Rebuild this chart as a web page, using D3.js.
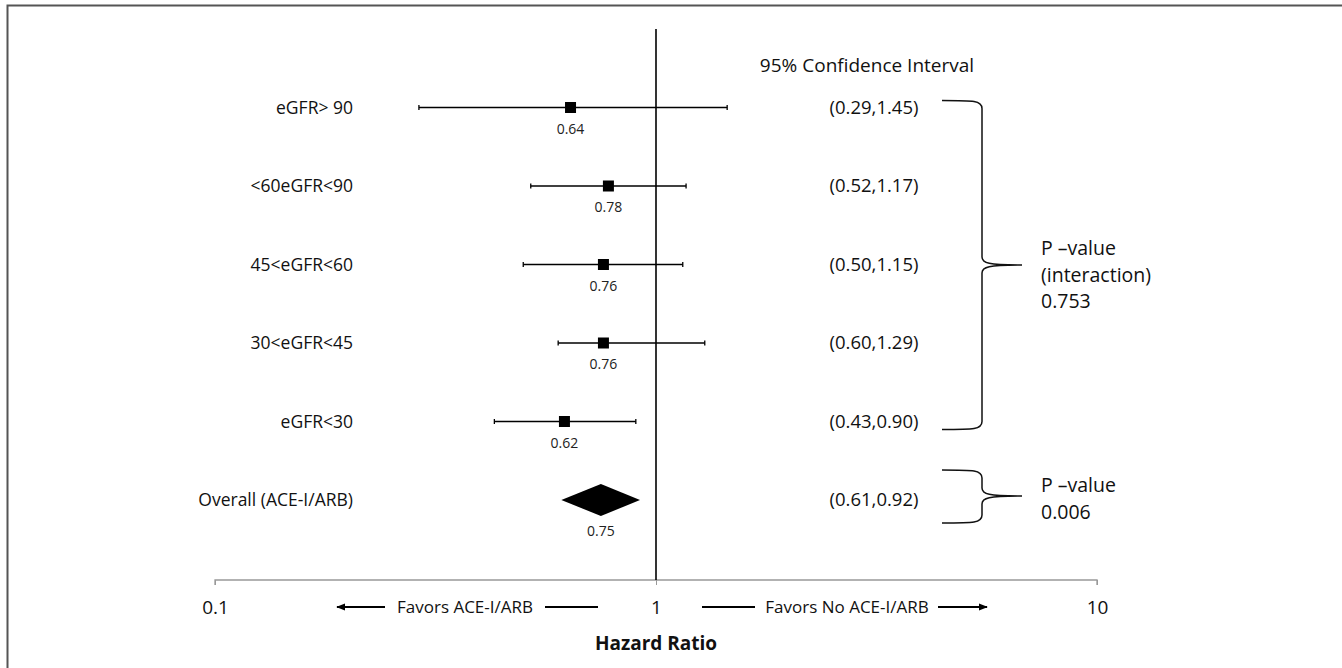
<!DOCTYPE html>
<html>
<head>
<meta charset="utf-8">
<script src="https://cdnjs.cloudflare.com/ajax/libs/d3/7.8.5/d3.min.js"></script>
<style>
  body { margin: 0; background: #fff; }
  svg { display: block; font-family: "Open Sans", "Liberation Sans", sans-serif; }
</style>
</head>
<body>
<script>
// subgroup labels (top to bottom) and hazard ratios with 95% CI
var groups = ["eGFR> 90", "<60eGFR<90", "45<eGFR<60", "30<eGFR<45", "eGFR<30", "Overall (ACE-I/ARB)"];
var hr     = [0.64, 0.78, 0.76, 0.76, 0.62, 0.75];
var lower  = [0.29, 0.52, 0.50, 0.60, 0.43, 0.61];
var upper  = [1.45, 1.17, 1.15, 1.29, 0.90, 0.92];
var ciText = ["(0.29,1.45)", "(0.52,1.17)", "(0.50,1.15)", "(0.60,1.29)", "(0.43,0.90)", "(0.61,0.92)"];
var ticks  = [0.1, 1, 10];
var pInteraction = ["P \u2013value", "(interaction)", "0.753"];
var pOverall     = ["P \u2013value", "0.006"];

var W = 1342, H = 668;

var svg = d3.select("body").append("svg")
    .attr("width", W)
    .attr("height", H);

// frame (only top and left edges visible)
svg.append("path")
    .attr("d", "M7.5,668 L7.5,5.5 L1342,5.5")
    .attr("fill", "none")
    .attr("stroke", "#555")
    .attr("stroke-width", 2);

var x = d3.scaleLog().domain([0.1, 10]).range([215, 1097]);
var y = d3.scalePoint().domain(groups).range([107.5, 500]);

var rows = groups.map(function(g, i) {
    return {name: g, hr: hr[i], lo: lower[i], hi: upper[i], ci: ciText[i], overall: i == groups.length - 1};
});

// axis
var axisG = svg.append("g")
    .attr("transform", "translate(0,580)")
    .call(d3.axisBottom(x).tickValues(ticks).tickSize(5).tickPadding(16)
        .tickFormat(function(d){ return d3.format("~g")(d); }));
axisG.select(".domain").attr("stroke", "#999").attr("stroke-width", 1.3)
    .attr("d", "M" + x(0.1) + ",5V0H" + x(10) + "V5");
axisG.selectAll(".tick line").attr("stroke", "#999");
axisG.selectAll(".tick text")
    .attr("font-size", 19)
    .attr("font-family", "'Open Sans', sans-serif")
    .attr("fill", "#111");

// line of no effect
svg.append("line")
    .attr("x1", x(1)).attr("x2", x(1))
    .attr("y1", 29).attr("y2", 580)
    .attr("stroke", "#000")
    .attr("stroke-width", 1.6);

// confidence interval whiskers
var sub = rows.filter(function(d){ return !d.overall; });

svg.selectAll(".ci").data(sub).enter()
    .append("line")
    .attr("x1", function(d){ return x(d.lo); })
    .attr("x2", function(d){ return x(d.hi); })
    .attr("y1", function(d){ return y(d.name); })
    .attr("y2", function(d){ return y(d.name); })
    .attr("stroke", "#000")
    .attr("stroke-width", 1.3);

// end caps
sub.forEach(function(d) {
    [d.lo, d.hi].forEach(function(v) {
        svg.append("line")
            .attr("x1", x(v)).attr("x2", x(v))
            .attr("y1", y(d.name) - 2.5).attr("y2", y(d.name) + 2.5)
            .attr("stroke", "#000")
            .attr("stroke-width", 1.3);
    });
});

// point estimates
svg.selectAll(".pt").data(sub).enter()
    .append("rect")
    .attr("x", function(d){ return x(d.hr) - 5.5; })
    .attr("y", function(d){ return y(d.name) - 5.5; })
    .attr("width", 11)
    .attr("height", 11)
    .attr("fill", "#000");

// overall diamond
var ov = rows[rows.length - 1];
svg.append("path")
    .attr("d", "M" + x(ov.lo) + "," + y(ov.name) +
               "L" + x(ov.hr) + "," + (y(ov.name) - 16) +
               "L" + x(ov.hi) + "," + y(ov.name) +
               "L" + x(ov.hr) + "," + (y(ov.name) + 16) + "Z")
    .attr("fill", "#000");

// value labels under markers
svg.selectAll(".val").data(rows).enter()
    .append("text")
    .attr("x", function(d){ return x(d.hr); })
    .attr("y", function(d){ return y(d.name) + (d.overall ? 36 : 26); })
    .attr("text-anchor", "middle")
    .attr("font-size", 14)
    .attr("fill", "#222")
    .text(function(d){ return d3.format(".2f")(d.hr); });

// row labels
svg.selectAll(".lab").data(rows).enter()
    .append("text")
    .attr("x", 353)
    .attr("y", function(d){ return y(d.name); })
    .attr("dy", "0.35em")
    .attr("text-anchor", "end")
    .attr("font-size", 17.5)
    .attr("fill", "#111")
    .text(function(d){ return d.name; });

// CI column
svg.append("text")
    .attr("x", 867).attr("y", 72)
    .attr("text-anchor", "middle")
    .attr("font-size", 19)
    .attr("fill", "#111")
    .text("95% Confidence Interval");

svg.selectAll(".cit").data(rows).enter()
    .append("text")
    .attr("x", 874)
    .attr("y", function(d){ return y(d.name); })
    .attr("dy", "0.35em")
    .attr("text-anchor", "middle")
    .attr("font-size", 18.5)
    .attr("fill", "#111")
    .text(function(d){ return d.ci; });

// curly braces
function brace(top, mid, bot) {
    var xt = 942, xv = 982, xp = 1022;
    return "M" + xt + "," + top +
        "C" + (xv - 8) + "," + top + " " + xv + "," + top + " " + xv + "," + (top + 8) +
        "L" + xv + "," + (mid - 8) +
        "C" + xv + "," + (mid - 2) + " " + (xv + 6) + "," + mid + " " + xp + "," + mid +
        "C" + (xv + 6) + "," + mid + " " + xv + "," + (mid + 2) + " " + xv + "," + (mid + 8) +
        "L" + xv + "," + (bot - 8) +
        "C" + xv + "," + bot + " " + (xv - 8) + "," + bot + " " + xt + "," + bot;
}

var yTop = y(groups[0]) - 7, yBot = y(groups[4]) + 8;
svg.append("path")
    .attr("d", brace(yTop, (yTop + yBot) / 2, yBot))
    .attr("fill", "none").attr("stroke", "#111").attr("stroke-width", 1.5);

var oTop = y(ov.name) - 30, oBot = y(ov.name) + 23;
svg.append("path")
    .attr("d", brace(oTop, y(ov.name) - 4, oBot))
    .attr("fill", "none").attr("stroke", "#111").attr("stroke-width", 1.5);

// p-value annotations
svg.selectAll(".pi").data(pInteraction).enter()
    .append("text")
    .attr("x", 1041)
    .attr("y", function(d, i){ return 255 + i * 26.5; })
    .attr("font-size", 19.5)
    .attr("fill", "#111")
    .text(function(d){ return d; });

svg.selectAll(".po").data(pOverall).enter()
    .append("text")
    .attr("x", 1041)
    .attr("y", function(d, i){ return 492 + i * 26.5; })
    .attr("font-size", 19.5)
    .attr("fill", "#111")
    .text(function(d){ return d; });

// favours arrows under the axis
var defs = svg.append("defs");
defs.append("marker")
    .attr("id", "arr")
    .attr("viewBox", "0 0 10 10")
    .attr("refX", 9).attr("refY", 5)
    .attr("markerWidth", 9).attr("markerHeight", 9)
    .attr("markerUnits", "userSpaceOnUse")
    .attr("orient", "auto")
    .append("path")
    .attr("d", "M0,1L10,5L0,9Z")
    .attr("fill", "#000");

var ay = 607;
svg.append("line").attr("x1", 385).attr("x2", 337).attr("y1", ay).attr("y2", ay)
    .attr("stroke", "#000").attr("stroke-width", 2).attr("marker-end", "url(#arr)");
svg.append("line").attr("x1", 545).attr("x2", 598).attr("y1", ay).attr("y2", ay)
    .attr("stroke", "#000").attr("stroke-width", 2);
svg.append("line").attr("x1", 702).attr("x2", 755).attr("y1", ay).attr("y2", ay)
    .attr("stroke", "#000").attr("stroke-width", 2);
svg.append("line").attr("x1", 938).attr("x2", 987).attr("y1", ay).attr("y2", ay)
    .attr("stroke", "#000").attr("stroke-width", 2).attr("marker-end", "url(#arr)");

svg.append("text")
    .attr("x", 465).attr("y", ay).attr("dy", "0.35em")
    .attr("text-anchor", "middle")
    .attr("font-size", 17).attr("fill", "#111")
    .text("Favors ACE-I/ARB");
svg.append("text")
    .attr("x", 847).attr("y", ay).attr("dy", "0.35em")
    .attr("text-anchor", "middle")
    .attr("font-size", 17).attr("fill", "#111")
    .text("Favors No ACE-I/ARB");

// axis title
svg.append("text")
    .attr("x", x(1)).attr("y", 650)
    .attr("text-anchor", "middle")
    .attr("font-size", 19)
    .attr("font-weight", "bold")
    .attr("fill", "#111")
    .text("Hazard Ratio");
</script>
</body>
</html>
